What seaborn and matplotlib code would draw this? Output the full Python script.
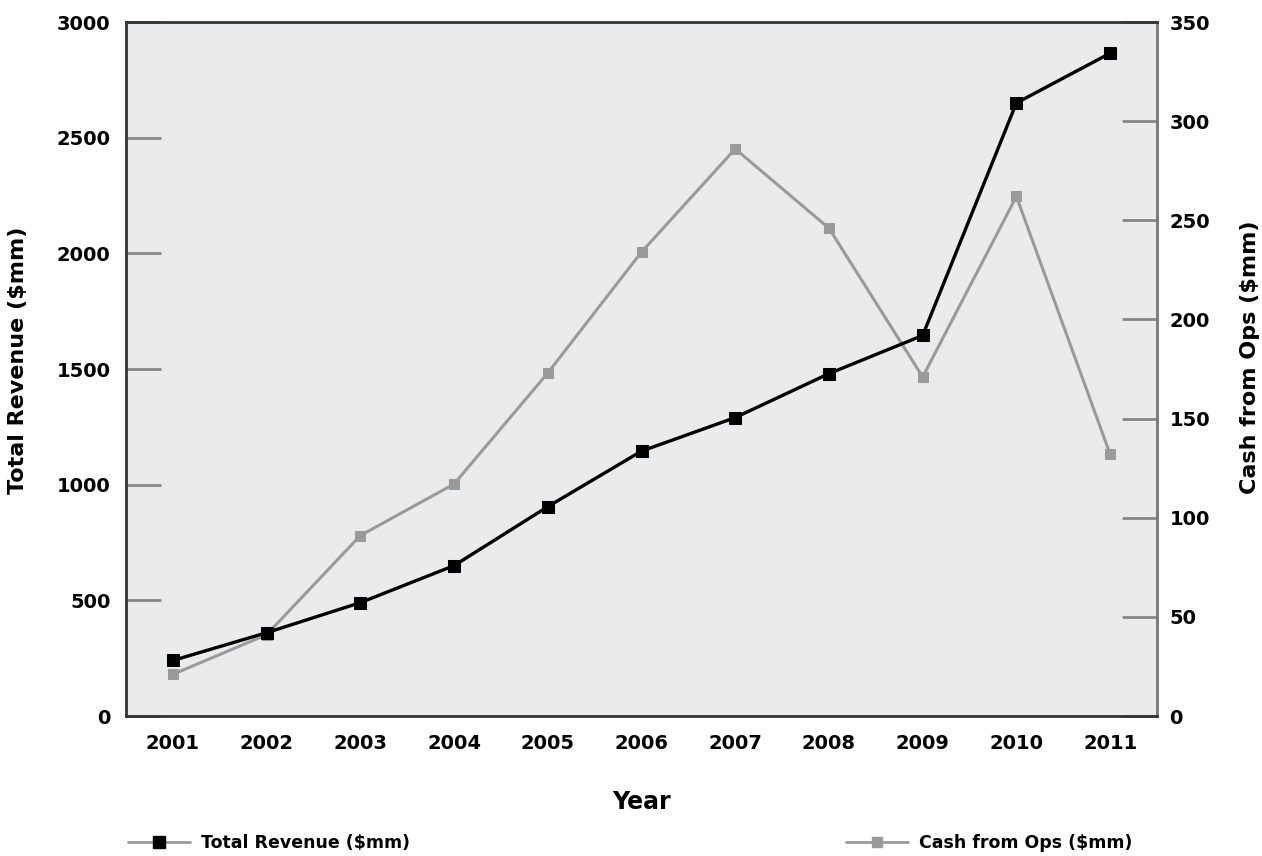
import pandas as pd
import numpy as np
import matplotlib
matplotlib.use("Agg")
import matplotlib.pyplot as plt
import seaborn as sns
from matplotlib.lines import Line2D

# --- datos ---
years = [2001, 2002, 2003, 2004, 2005, 2006, 2007, 2008, 2009, 2010, 2011]
total_revenue = [240, 360, 490, 650, 905, 1145, 1290, 1480, 1645, 2650, 2865]
cash_from_ops = [21, 41, 91, 117, 173, 234, 286, 246, 171, 262, 132]

df = pd.DataFrame({"Year": years, "Revenue": total_revenue, "Cash": cash_from_ops})

sns.set_style("white")
plt.rcParams["font.family"] = ["DejaVu Sans"]
plt.rcParams["text.color"] = "black"

fig = plt.figure(figsize=(12.62, 8.56), dpi=100)
ax = fig.add_axes([126 / 1262, 1 - 716 / 856, (1157 - 126) / 1262, (716 - 22) / 856])
ax2 = ax.twinx()

# fondo gris detrás de ambas series
ax2.set_zorder(0)
ax.set_zorder(1)
ax.patch.set_visible(False)
ax2.patch.set_visible(True)
ax2.patch.set_facecolor("#eaebec")

gray = "#9a9a9a"
sns.lineplot(data=df, x="Year", y="Cash", ax=ax2, color=gray, lw=2.2,
             marker="s", markersize=7, markeredgecolor=gray, markerfacecolor=gray)
sns.lineplot(data=df, x="Year", y="Revenue", ax=ax, color="black", lw=2.4,
             marker="s", markersize=8, markeredgecolor="black", markerfacecolor="black")

ax.set_xlim(2000.5, 2011.5)
ax.set_ylim(0, 3000)
ax2.set_ylim(0, 350)
ax.set_xticks(years)
ax.set_xticks(np.arange(2001.5, 2011.5, 1), minor=True)
ax.set_yticks(range(0, 3001, 500))
ax2.set_yticks(range(0, 351, 50))

fs = 14
ax.tick_params(axis="x", which="major", length=0, pad=13, labelsize=fs, labelcolor="black")
ax.tick_params(axis="x", which="minor", direction="in", length=17, width=2, color="#777777")
ax.tick_params(axis="y", direction="in", length=25, width=2, color="#888888",
               labelsize=fs, pad=11, labelcolor="black")
ax2.tick_params(axis="y", direction="in", length=25, width=2, color="#888888",
                labelsize=fs, pad=9, labelcolor="black")
for lab in ax.get_xticklabels() + ax.get_yticklabels() + ax2.get_yticklabels():
    lab.set_fontweight("semibold")

for s in ["left", "top", "bottom"]:
    ax.spines[s].set_color("#333333")
    ax.spines[s].set_linewidth(2)
ax.spines["right"].set_visible(False)
for s in ["left", "top", "bottom"]:
    ax2.spines[s].set_visible(False)
ax2.spines["right"].set_color("#777777")
ax2.spines["right"].set_linewidth(2)

ax.set_xlabel("Year", fontsize=17, fontweight="bold", color="black")
ax.xaxis.set_label_coords(0.5, -0.107)
ax.set_ylabel("Total Revenue ($mm)", fontsize=16, fontweight="bold", color="black")
ax.yaxis.set_label_coords(-0.095, 0.513)
ax2.set_ylabel("Cash from Ops ($mm)", fontsize=16, fontweight="bold", color="black",
               rotation=90)
ax2.yaxis.set_label_coords(1.0805, 0.517)

# leyenda en dos partes, abajo
h1 = Line2D([], [], color=gray, lw=2, marker="s", markersize=8,
            markerfacecolor="black", markeredgecolor="black")
h2 = Line2D([], [], color=gray, lw=2, marker="s", markersize=7,
            markerfacecolor=gray, markeredgecolor=gray)
fig.legend([h1], ["Total Revenue ($mm)"], loc="center left",
           bbox_to_anchor=(112 / 1262, 1 - 843 / 856), frameon=False, labelcolor="black",
           prop={"size": 12.5, "weight": "bold"}, handlelength=3.6, handletextpad=0.6)
fig.legend([h2], ["Cash from Ops ($mm)"], loc="center left",
           bbox_to_anchor=(830 / 1262, 1 - 843 / 856), frameon=False, labelcolor="black",
           prop={"size": 12.5, "weight": "bold"}, handlelength=3.6, handletextpad=0.6)

fig.savefig("out.png", dpi=100)
